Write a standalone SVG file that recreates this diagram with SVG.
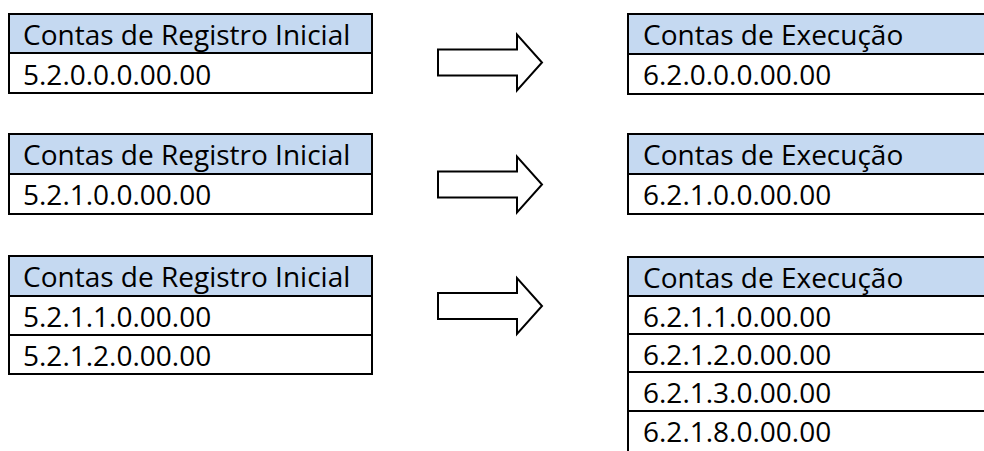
<svg xmlns="http://www.w3.org/2000/svg" width="984" height="451" viewBox="0 0 984 451">
<style>
  .hdr { fill: #C5D9F1; }
  .box { fill: none; stroke: #000; stroke-width: 2; }
  .line { stroke: #000; stroke-width: 2; }
  .txt { font-family: "Open Sans", "Liberation Sans", sans-serif; font-size: 28px; fill: #000; }
  .arrow { fill: #fff; stroke: #000; stroke-width: 2; stroke-linejoin: miter; }
</style>
<defs>
  <polygon id="arrowShape" points="438,-13 517,-13 517,-28 542,0 517,28 517,13 438,13"/>
</defs>
<rect width="984" height="451" fill="#fff"/>

<g id="left1">
  <rect class="hdr" x="9" y="14" width="363" height="39"/>
  <rect class="box" x="9" y="14" width="363" height="79"/>
  <line class="line" x1="9" y1="53" x2="372" y2="53"/>
  <text class="txt" x="23" y="45">Contas de Registro Inicial</text>
  <text class="txt" x="23" y="85">5.2.0.0.0.00.00</text>
</g>

<g id="left2">
  <rect class="hdr" x="9" y="134" width="363" height="40"/>
  <rect class="box" x="9" y="134" width="363" height="80"/>
  <line class="line" x1="9" y1="174" x2="372" y2="174"/>
  <text class="txt" x="23" y="165">Contas de Registro Inicial</text>
  <text class="txt" x="23" y="205">5.2.1.0.0.00.00</text>
</g>

<g id="left3">
  <rect class="hdr" x="9" y="256" width="363" height="40"/>
  <rect class="box" x="9" y="256" width="363" height="118"/>
  <line class="line" x1="9" y1="296" x2="372" y2="296"/>
  <line class="line" x1="9" y1="335" x2="372" y2="335"/>
  <text class="txt" x="23" y="287">Contas de Registro Inicial</text>
  <text class="txt" x="23" y="327">5.2.1.1.0.00.00</text>
  <text class="txt" x="23" y="366">5.2.1.2.0.00.00</text>
</g>

<g id="right1">
  <rect class="hdr" x="628" y="14" width="370" height="40"/>
  <rect class="box" x="628" y="14" width="370" height="80"/>
  <line class="line" x1="628" y1="54" x2="998" y2="54"/>
  <text class="txt" x="643" y="45">Contas de Execução</text>
  <text class="txt" x="643" y="85">6.2.0.0.0.00.00</text>
</g>

<g id="right2">
  <rect class="hdr" x="628" y="134" width="370" height="40"/>
  <rect class="box" x="628" y="134" width="370" height="80"/>
  <line class="line" x1="628" y1="174" x2="998" y2="174"/>
  <text class="txt" x="643" y="165">Contas de Execução</text>
  <text class="txt" x="643" y="205">6.2.1.0.0.00.00</text>
</g>

<g id="right3">
  <rect class="hdr" x="628" y="257" width="370" height="39"/>
  <rect class="box" x="628" y="257" width="370" height="200"/>
  <line class="line" x1="628" y1="296" x2="998" y2="296"/>
  <line class="line" x1="628" y1="334" x2="998" y2="334"/>
  <line class="line" x1="628" y1="372" x2="998" y2="372"/>
  <line class="line" x1="628" y1="411" x2="998" y2="411"/>
  <text class="txt" x="643" y="288">Contas de Execução</text>
  <text class="txt" x="643" y="327">6.2.1.1.0.00.00</text>
  <text class="txt" x="643" y="365">6.2.1.2.0.00.00</text>
  <text class="txt" x="643" y="403">6.2.1.3.0.00.00</text>
  <text class="txt" x="643" y="442">6.2.1.8.0.00.00</text>
</g>

<g id="connectors">
  <use href="#arrowShape" class="arrow" transform="translate(0,62.5)"/>
  <use href="#arrowShape" class="arrow" transform="translate(0,184.5)"/>
  <use href="#arrowShape" class="arrow" transform="translate(0,306)"/>
</g>
</svg>
